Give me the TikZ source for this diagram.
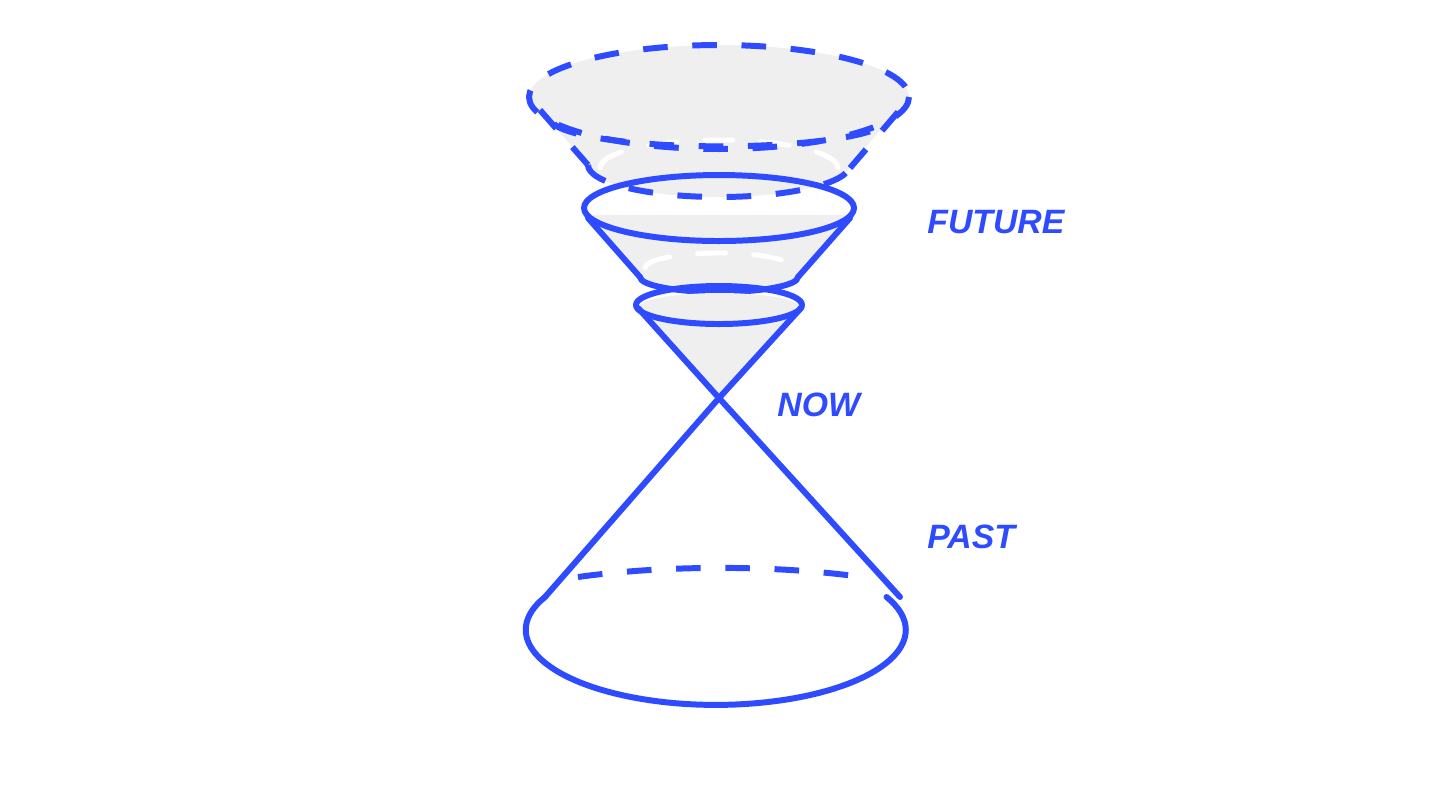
\documentclass[tikz,border=0pt]{standalone}
\usepackage{fontspec}
\setmainfont{Liberation Sans}
\definecolor{coneblue}{HTML}{2E4BFF}
\definecolor{conegray}{HTML}{EFEFEF}
\begin{document}
\begin{tikzpicture}[x=0.01cm, y=-0.01cm, line cap=round, line join=round,
  edge/.style={coneblue, line width=1.7pt},
  hidden/.style={coneblue, line width=1.7pt, dash pattern=on 7pt off 7pt, line cap=butt},
  whiteedge/.style={white, line width=1.4pt, dash pattern=on 8pt off 8pt},
  tag/.style={coneblue, font=\fontsize{9.6}{11}\selectfont\bfseries\itshape, anchor=west}]
\useasboundingbox (0,0) rectangle (1440,799);
% widest slice
\fill[conegray] (529,97) -- (588,165) arc[start angle=180, end angle=0, x radius=131, y radius=32] -- (909,97) arc[start angle=0, end angle=-180, x radius=190, y radius=52];
\draw[whiteedge] (600,168) arc[start angle=180, end angle=360, x radius=119, y radius=28];
\draw[hidden] (719,97) ellipse[x radius=190, y radius=52];
\draw[hidden] (554,124) arc[start angle=170, end angle=10, x radius=168, y radius=27];
\draw[hidden] (588,165) arc[start angle=180, end angle=0, x radius=131, y radius=32];
\draw[hidden] (540,110) -- (588,165);
\draw[hidden] (898,112) -- (850,168);
% middle slice
\fill[conegray] (588,215) -- (640,275) arc[start angle=180, end angle=0, x radius=79, y radius=17] -- (850,215) -- cycle;
\draw[whiteedge] (645,268) arc[start angle=180, end angle=360, x radius=74, y radius=15];
\draw[edge] (719,208) ellipse[x radius=135, y radius=33];
\draw[edge] (588,218) -- (640,277);
\draw[edge] (850,218) -- (798,277);
\draw[edge] (640,277) arc[start angle=180, end angle=0, x radius=79, y radius=15];
% smallest slice
\coordinate (now) at (719,398);
\fill[conegray] (638,308) -- (now) -- (801,308) arc[start angle=0, end angle=-180, x radius=81.5, y radius=15] -- cycle;
\draw[edge] (719,305) ellipse[x radius=83, y radius=19];
\draw[edge] (638,308) -- (now) -- (801,308);
% past cone
\draw[edge] (545,597) -- (now) -- (900,597);
\draw[edge] (545,597) arc[start angle=206, end angle=-26, x radius=190, y radius=75];
\draw[hidden] (578,577) arc[start angle=238, end angle=302, x radius=268, y radius=60];
\node[tag] (future) at (915,222) {FUTURE};
\node[tag] (nowlabel) at (765,405) {NOW};
\node[tag] (past) at (915,537) {PAST};
\end{tikzpicture}
\end{document}
